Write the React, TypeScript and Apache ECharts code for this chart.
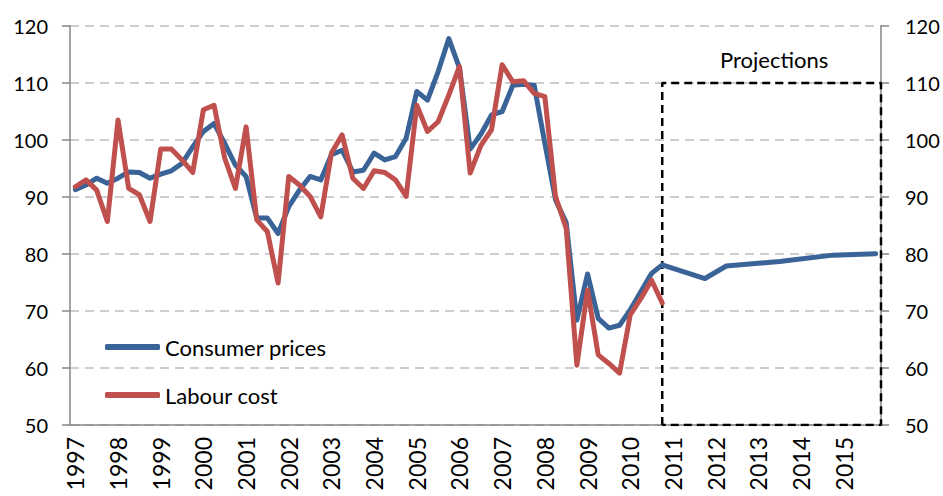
import React, { useEffect, useRef } from "react";
import * as echarts from "echarts";

const years = ["1997","1998","1999","2000","2001","2002","2003","2004","2005","2006","2007","2008","2009","2010","2011","2012","2013","2014","2015"];
const quarters = ["Q1", "Q2", "Q3", "Q4"];

// Historical quarterly data 1997Q1 - 2010Q4
const consumerPricesHist = [
  91.3, 92.1, 93.3, 92.4, 93.3, 94.4, 94.3, 93.3, 94.0, 94.6,
  95.9, 98.8, 101.5, 102.9, 99.4, 95.6, 93.6, 86.3, 86.3, 83.6,
  88.3, 91.2, 93.6, 93.0, 97.4, 98.2, 94.4, 94.7, 97.7, 96.5,
  97.1, 100.3, 108.5, 107.0, 112.0, 117.8, 112.6, 98.4, 101.0, 104.4,
  105.0, 109.6, 109.8, 109.6, 99.4, 89.5, 85.5, 68.4, 76.5, 68.7,
  67.0, 67.5, 70.2, 73.4, 76.6, 78.1,
];
// Projection points 2011Q1 - 2015Q4 (null where no point is plotted)
const consumerPricesProj = [
  null, null, null, 75.7, null, 77.9, null, null, null, null,
  78.7, null, null, null, null, 79.8, null, null, null, 80.05,
];
const labourCost = [
  91.8, 93.0, 91.2, 85.7, 103.5, 91.5, 90.4, 85.7, 98.4, 98.4,
  96.5, 94.3, 105.3, 106.1, 96.8, 91.5, 102.3, 86.0, 83.9, 74.9,
  93.6, 92.1, 90.1, 86.5, 97.7, 100.9, 93.3, 91.5, 94.6, 94.3,
  93.0, 90.1, 106.1, 101.5, 103.2, 107.9, 112.9, 94.2, 99.0, 101.8,
  113.2, 110.2, 110.4, 108.2, 107.6, 90.1, 84.5, 60.5, 73.7, 62.3,
  60.8, 59.1, 69.3, 72.2, 75.4, 71.4,
];
const projectionBox = [[55.5, 50], [55.5, 110], [76, 110], [76, 50], [55.5, 50]];

const FONT = 'Lato, "Liberation Sans", sans-serif';
const BLUE = "#3A6498";
const RED = "#C0504D";

export default function App() {
  const ref = useRef<HTMLDivElement>(null);
  useEffect(() => {
    const chart = echarts.init(ref.current!, null, { renderer: "svg" });
    const categories: string[] = [];
    years.forEach((y) => quarters.forEach((q) => categories.push(y + " " + q)));
    const cp = [...consumerPricesHist, ...consumerPricesProj];
    const axisGray = "#868686";
    chart.setOption({
      animation: false,
      textStyle: { fontFamily: FONT },
      grid: { left: 70, right: 62, top: 26, bottom: 71 },
      title: {
        text: "Projections",
        left: 715,
        top: 43,
        textStyle: { fontFamily: FONT, fontSize: 22, fontWeight: "normal", color: "#000" },
      },
      legend: {
        orient: "vertical",
        left: 100,
        top: 330,
        itemWidth: 55,
        itemHeight: 6,
        itemGap: 24,
        icon: "roundRect",
        data: ["Consumer prices", "Labour cost"],
        textStyle: { fontFamily: FONT, fontSize: 22, color: "#000", lineHeight: 24 },
      },
      xAxis: [
        {
          type: "category",
          data: categories,
          boundaryGap: true,
          axisLine: { lineStyle: { color: axisGray, width: 1.5 } },
          axisTick: { interval: 1, length: 7, lineStyle: { color: axisGray, width: 1.5 } },
          axisLabel: {
            interval: 3,
            rotate: 90,
            margin: 12,
            fontSize: 23,
            color: "#000",
            fontFamily: FONT,
            formatter: (v: string) => v.slice(0, 4),
          },
          splitLine: { show: false },
        },
        { type: "value", min: 0, max: 76, show: false },
      ],
      yAxis: [
        {
          type: "value",
          min: 50,
          max: 120,
          interval: 10,
          axisLine: { show: true, lineStyle: { color: axisGray, width: 1.5 } },
          axisTick: { show: true, length: 8, lineStyle: { color: axisGray, width: 1.5 } },
          axisLabel: { margin: 22, fontSize: 20, color: "#000", fontFamily: FONT },
          splitLine: { show: true, lineStyle: { type: [9, 6], color: "#BFBFBF", width: 1.5 } },
        },
        {
          type: "value",
          position: "right",
          min: 50,
          max: 120,
          interval: 10,
          axisLine: { show: true, lineStyle: { color: axisGray, width: 1.5 } },
          axisTick: { show: true, length: 8, lineStyle: { color: axisGray, width: 1.5 } },
          axisLabel: { margin: 24, fontSize: 20, color: "#000", fontFamily: FONT },
          splitLine: { show: false },
        },
      ],
      series: [
        {
          name: "Projection box",
          type: "line",
          xAxisIndex: 1,
          yAxisIndex: 0,
          data: projectionBox,
          symbol: "none",
          silent: true,
          lineStyle: { color: "#000", width: 2.5, type: [8, 5] },
          z: 1,
        },
        {
          name: "Labour cost",
          type: "line",
          data: labourCost,
          symbol: "none",
          color: RED,
          lineStyle: { color: RED, width: 5, cap: "round", join: "round" },
          z: 3,
        },
        {
          name: "Consumer prices",
          type: "line",
          data: cp,
          connectNulls: true,
          symbol: "none",
          color: BLUE,
          lineStyle: { color: BLUE, width: 5, cap: "round", join: "round" },
          z: 2,
        },
      ],
    });
    return () => chart.dispose();
  }, []);
  return <div ref={ref} style={{ position: "absolute", left: 0, top: 0, width: 943, height: 496 }} />;
}
